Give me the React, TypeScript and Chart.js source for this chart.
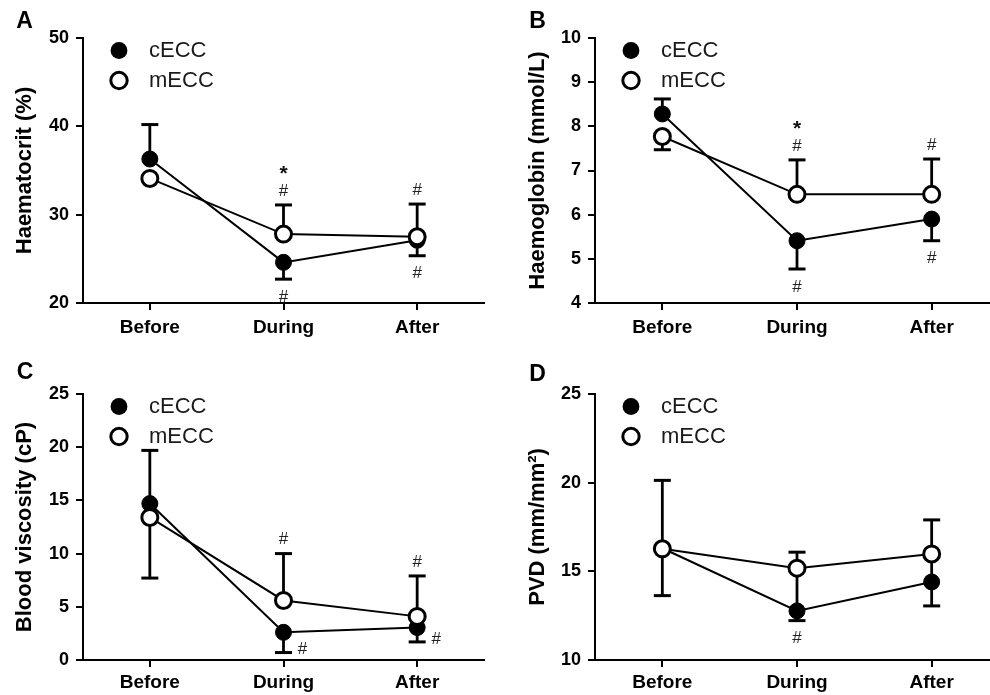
import React, { useEffect, useRef } from 'react';
import { Chart, registerables } from 'chart.js';

Chart.register(...registerables);

const FONT = "'Liberation Sans', Arial, Helvetica, sans-serif";

const categories = ['Before', 'During', 'After'];
const seriesNames = ['cECC', 'mECC'];

// Panel A – Haematocrit (%)
const hctC = [36.3, 24.6, 27.1];
const hctM = [34.1, 27.8, 27.5];
const hctCHi = [40.2, null, null];
const hctCLo = [null, 22.7, 25.35];
const hctMHi = [null, 31.1, 31.2];
const hctMLo = [null, null, null];
const hctCSig = ['', '#', '#'];
const hctMSig = ['', '*#', '#'];
const hctTicks = { min: 20, max: 50, step: 10 };

// Panel B – Haemoglobin (mmol/L)
const hbC = [8.28, 5.41, 5.9];
const hbM = [7.77, 6.46, 6.46];
const hbCHi = [8.62, null, null];
const hbCLo = [null, 4.77, 5.41];
const hbMHi = [null, 7.24, 7.26];
const hbMLo = [7.47, null, null];
const hbCSig = ['', '#', '#'];
const hbMSig = ['', '*#', '#'];
const hbTicks = { min: 4, max: 10, step: 1 };

// Panel C – Blood viscosity (cP)
const bvC = [14.7, 2.6, 3.05];
const bvM = [13.4, 5.6, 4.1];
const bvCHi = [19.7, null, null];
const bvCLo = [null, 0.7, 1.7];
const bvMHi = [null, 10.0, 7.9];
const bvMLo = [7.7, null, null];
const bvCSig = ['', '#', '#'];
const bvMSig = ['', '#', '#'];
const bvTicks = { min: 0, max: 25, step: 5 };

// Panel D – PVD (mm/mm²)
const pvdC = [16.3, 12.77, 14.4];
const pvdM = [16.27, 15.18, 15.98];
const pvdCHi = [20.13, 15.18, 15.98];
const pvdCLo = [null, 12.22, 13.05];
const pvdMHi = [null, 16.08, 17.9];
const pvdMLo = [13.63, null, null];
const pvdCSig = ['', '#', ''];
const pvdMSig = ['', '', ''];
const pvdTicks = { min: 10, max: 25, step: 5 };

type Num = number | null;
interface PanelCfg {
  letter: string;
  letterPos: [number, number];
  left: number; top: number; w: number; h: number;
  yW: number; padTop: number; padRight: number; xH: number; titlePad: number; xPad: number;
  title: string;
  ticks: { min: number; max: number; step: number };
  c: number[]; m: number[];
  cHi: Num[]; cLo: Num[]; mHi: Num[]; mLo: Num[];
  cSig: string[]; mSig: string[];
  cSigPos: 'below' | 'right';
}

const PANELS: PanelCfg[] = [
  {
    letter: 'A', letterPos: [24.5, 22], left: 0, top: 0, w: 495, h: 350,
    yW: 83, padTop: 38, padRight: 8, xH: 47, titlePad: 12, xPad: 6,
    title: 'Haematocrit (%)', ticks: hctTicks,
    c: hctC, m: hctM, cHi: hctCHi, cLo: hctCLo, mHi: hctMHi, mLo: hctMLo,
    cSig: hctCSig, mSig: hctMSig, cSigPos: 'below',
  },
  {
    letter: 'B', letterPos: [42.5, 22], left: 495, top: 0, w: 515, h: 350,
    yW: 100, padTop: 38, padRight: 10, xH: 47, titlePad: 30, xPad: 6,
    title: 'Haemoglobin (mmol/L)', ticks: hbTicks,
    c: hbC, m: hbM, cHi: hbCHi, cLo: hbCLo, mHi: hbMHi, mLo: hbMLo,
    cSig: hbCSig, mSig: hbMSig, cSigPos: 'below',
  },
  {
    letter: 'C', letterPos: [25, 43], left: 0, top: 330, w: 495, h: 365,
    yW: 83, padTop: 64, padRight: 8, xH: 35, titlePad: 12, xPad: 4,
    title: 'Blood viscosity (cP)', ticks: bvTicks,
    c: bvC, m: bvM, cHi: bvCHi, cLo: bvCLo, mHi: bvMHi, mLo: bvMLo,
    cSig: bvCSig, mSig: bvMSig, cSigPos: 'right',
  },
  {
    letter: 'D', letterPos: [42.5, 45], left: 495, top: 330, w: 515, h: 365,
    yW: 100, padTop: 64, padRight: 10, xH: 35, titlePad: 30, xPad: 4,
    title: 'PVD (mm/mm\u00B2)', ticks: pvdTicks,
    c: pvdC, m: pvdM, cHi: pvdCHi, cLo: pvdCLo, mHi: pvdMHi, mLo: pvdMLo,
    cSig: pvdCSig, mSig: pvdMSig, cSigPos: 'below',
  },
];

function makeDeco(cfg: PanelCfg) {
  return {
    id: 'deco' + cfg.letter,
    beforeDatasetsDraw(chart: any) {
      const { ctx } = chart;
      const xs = chart.scales.x;
      const ys = chart.scales.y;
      ctx.save();
      ctx.strokeStyle = '#000';
      ctx.lineCap = 'butt';
      const groups = [
        { v: cfg.c, hi: cfg.cHi, lo: cfg.cLo },
        { v: cfg.m, hi: cfg.mHi, lo: cfg.mLo },
      ];
      groups.forEach((g) => {
        g.v.forEach((val, i) => {
          const px = xs.getPixelForValue(i);
          const py = ys.getPixelForValue(val);
          [g.hi[i], g.lo[i]].forEach((end) => {
            if (end == null) return;
            const pe = ys.getPixelForValue(end);
            ctx.lineWidth = 2.8;
            ctx.beginPath();
            ctx.moveTo(px, py);
            ctx.lineTo(px, pe);
            ctx.stroke();
            ctx.lineWidth = 3;
            ctx.beginPath();
            ctx.moveTo(px - 8.5, pe);
            ctx.lineTo(px + 8.5, pe);
            ctx.stroke();
          });
        });
      });
      ctx.restore();
    },
    afterDraw(chart: any) {
      const { ctx, chartArea } = chart;
      const xs = chart.scales.x;
      const ys = chart.scales.y;
      ctx.save();
      // Panel letter
      ctx.fillStyle = '#000';
      ctx.font = `bold 23px ${FONT}`;
      ctx.textAlign = 'center';
      ctx.textBaseline = 'middle';
      ctx.fillText(cfg.letter, cfg.letterPos[0], cfg.letterPos[1]);

      // Legend
      const mx = chartArea.left + 36;
      const y1 = chartArea.top + 12.5;
      const y2 = chartArea.top + 42.5;
      ctx.beginPath();
      ctx.arc(mx, y1, 8.4, 0, Math.PI * 2);
      ctx.fillStyle = '#000';
      ctx.fill();
      ctx.beginPath();
      ctx.arc(mx, y2, 8.2, 0, Math.PI * 2);
      ctx.fillStyle = '#fff';
      ctx.fill();
      ctx.lineWidth = 3;
      ctx.strokeStyle = '#000';
      ctx.stroke();
      ctx.fillStyle = '#1a1a1a';
      ctx.font = `22px ${FONT}`;
      ctx.textAlign = 'left';
      ctx.textBaseline = 'middle';
      ctx.fillText(seriesNames[0], chartArea.left + 66, y1);
      ctx.fillText(seriesNames[1], chartArea.left + 66, y2);

      // Significance marks
      ctx.textAlign = 'center';
      cfg.m.forEach((val, i) => {
        const marks = cfg.mSig[i];
        if (!marks) return;
        const end = cfg.mHi[i] != null ? (cfg.mHi[i] as number) : val;
        const pe = ys.getPixelForValue(end);
        const px = xs.getPixelForValue(i);
        const chars = marks.split('').reverse();
        chars.forEach((ch, k) => {
          if (ch === '*') {
            ctx.font = `bold 21px ${FONT}`;
            ctx.fillStyle = '#111';
            ctx.fillText('*', px, pe - 14 - 22 * k + 5);
          } else {
            ctx.font = `17px ${FONT}`;
            ctx.fillStyle = '#222';
            ctx.fillText(ch, px, pe - 14 - 22 * k);
          }
        });
      });
      cfg.c.forEach((val, i) => {
        const marks = cfg.cSig[i];
        if (!marks) return;
        const end = cfg.cLo[i] != null ? (cfg.cLo[i] as number) : val;
        const pe = ys.getPixelForValue(end);
        const px = xs.getPixelForValue(i);
        ctx.font = `17px ${FONT}`;
        ctx.fillStyle = '#222';
        if (cfg.cSigPos === 'right') {
          ctx.fillText(marks, px + 19, pe - 3);
        } else {
          ctx.fillText(marks, px, pe + 18);
        }
      });
      ctx.restore();
    },
  };
}

function Panel({ cfg }: { cfg: PanelCfg }) {
  const ref = useRef<HTMLCanvasElement | null>(null);
  useEffect(() => {
    if (!ref.current) return;
    const chart = new Chart(ref.current, {
      type: 'line',
      data: {
        labels: categories,
        datasets: [
          {
            label: seriesNames[0],
            data: cfg.c,
            borderColor: '#000',
            borderWidth: 2,
            pointRadius: 8,
            pointBackgroundColor: '#000',
            pointBorderColor: '#000',
            pointBorderWidth: 1,
            tension: 0,
            order: 1,
            clip: false as any,
          },
          {
            label: seriesNames[1],
            data: cfg.m,
            borderColor: '#000',
            borderWidth: 2,
            pointRadius: 8,
            pointBackgroundColor: '#fff',
            pointBorderColor: '#000',
            pointBorderWidth: 3,
            tension: 0,
            order: 0,
            clip: false as any,
          },
        ],
      },
      options: {
        responsive: false,
        maintainAspectRatio: false,
        animation: false,
        devicePixelRatio: 1,
        events: [],
        layout: { padding: { top: cfg.padTop, right: cfg.padRight, left: 0, bottom: 0 } },
        plugins: {
          legend: { display: false },
          tooltip: { enabled: false },
          title: { display: false },
        },
        scales: {
          x: {
            type: 'category',
            offset: true,
            grid: {
              display: true,
              drawOnChartArea: false,
              drawTicks: true,
              tickLength: 7,
              tickWidth: 2,
              lineWidth: 2,
              tickColor: '#000',
              color: '#000',
              offset: false,
            },
            border: { display: true, color: '#000', width: 2 },
            ticks: {
              color: '#000',
              font: { family: FONT, size: 19, weight: 'bold' },
              padding: cfg.xPad,
              maxRotation: 0,
              autoSkip: false,
            },
            afterFit: (scale: any) => {
              scale.height = cfg.xH;
            },
          },
          y: {
            type: 'linear',
            min: cfg.ticks.min,
            max: cfg.ticks.max,
            grid: {
              display: true,
              drawOnChartArea: false,
              drawTicks: true,
              tickLength: 7,
              tickWidth: 2,
              lineWidth: 2,
              tickColor: '#000',
              color: '#000',
            },
            border: { display: true, color: '#000', width: 2 },
            ticks: {
              stepSize: cfg.ticks.step,
              color: '#000',
              font: { family: FONT, size: 18, weight: 'bold' },
              padding: 7,
            },
            title: {
              display: true,
              text: cfg.title,
              color: '#000',
              font: { family: FONT, size: 22, weight: 'bold' },
              padding: { top: cfg.titlePad, bottom: 0 },
            },
            afterFit: (scale: any) => {
              scale.width = cfg.yW;
            },
          },
        },
      } as any,
      plugins: [makeDeco(cfg)],
    });
    return () => chart.destroy();
  }, [cfg]);
  return (
    <canvas
      ref={ref}
      width={cfg.w}
      height={cfg.h}
      style={{ position: 'absolute', left: cfg.left, top: cfg.top, width: cfg.w, height: cfg.h }}
    />
  );
}

export default function App() {
  return (
    <div
      style={{
        position: 'absolute',
        left: 0,
        top: 0,
        width: 990,
        height: 695,
        overflow: 'hidden',
        background: '#fff',
      }}
    >
      {PANELS.map((p) => (
        <Panel key={p.letter} cfg={p} />
      ))}
    </div>
  );
}
